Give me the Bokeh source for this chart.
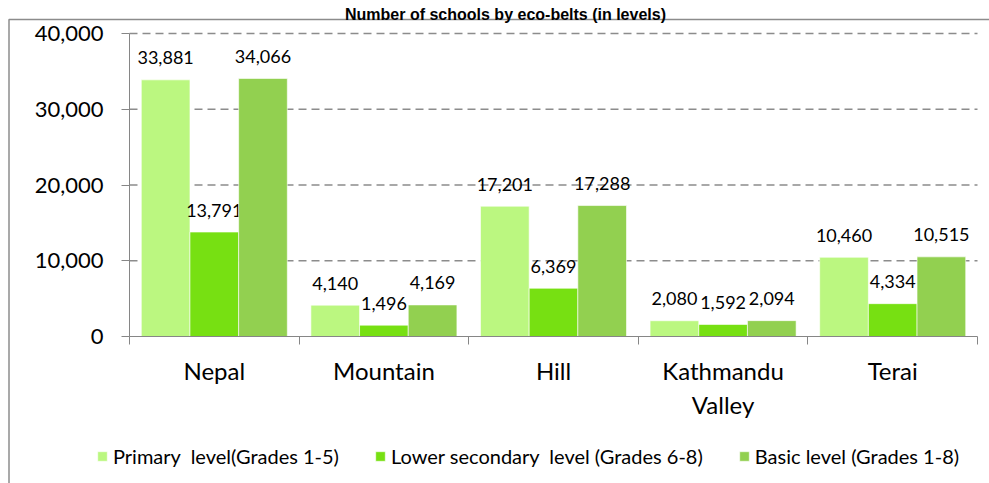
import numpy as np
from bokeh.plotting import figure
from bokeh.models import (ColumnDataSource, Range1d, FixedTicker, NumeralTickFormatter,
                          Legend, LegendItem, Label)
from bokeh.transform import dodge
from bokeh.embed import file_html
from bokeh.resources import INLINE
from bokeh.core.properties import value

# ---------------- data ----------------
title = "Number of schools by eco-belts (in levels)"
categories = ["Nepal", "Mountain", "Hill", "Kathmandu\nValley", "Terai"]
primary = [33881, 4140, 17201, 2080, 10460]
lower_secondary = [13791, 1496, 6369, 1592, 4334]
basic = [34066, 4169, 17288, 2094, 10515]
series_names = ["Primary  level(Grades 1-5)",
                "Lower secondary  level (Grades 6-8)",
                "Basic level (Grades 1-8)"]
colors = ["#BBF780", "#77E012", "#92D050"]
y_ticks = [0, 10000, 20000, 30000, 40000]

# ---------------- geometry (pixels on the canvas) ----------------
W, H = 989, 483
PX_L, PX_R, PX_T, PX_B = 129, 977, 33, 336     # plotting area
ncat = len(categories)
ymax = y_ticks[-1]
sx = (PX_R - PX_L) / ncat
sy = (PX_B - PX_T) / ymax
x_start, x_end = -PX_L / sx, ncat + (W - PX_R) / sx
y_start, y_end = -(H - PX_B) / sy, ymax + PX_T / sy


def xd(px):
    return x_start + px / sx


def yd(py):
    return y_end - py / sy


# ---------------- source ----------------
centers = np.arange(ncat) + 0.5
src = ColumnDataSource(dict(
    x=centers,
    primary=primary, lower=lower_secondary, basic=basic,
    lab_primary=[f"{v:,}" for v in primary],
    lab_lower=[f"{v:,}" for v in lower_secondary],
    lab_basic=[f"{v:,}" for v in basic],
))
grid_src = ColumnDataSource(dict(x0=[0] * (len(y_ticks) - 1), x1=[ncat] * (len(y_ticks) - 1),
                                 y=y_ticks[1:]))

FONT = "Lato"
GRAY = "#868686"
FRAME_GRAY = "#8c8c8c"

p = figure(width=W, height=H,
           x_range=Range1d(x_start, x_end), y_range=Range1d(y_start, y_end),
           output_backend="svg", toolbar_location=None,
           min_border_left=0, min_border_right=0, min_border_top=0, min_border_bottom=0)
p.title.visible = False
p.outline_line_color = None
p.background_fill_color = "white"
p.border_fill_color = "white"
p.xgrid.visible = False
p.ygrid.visible = False

# chart-area frame (left and top edges)
p.line(x=[xd(8.5), xd(8.5), x_end + 1], y=[y_start - 1, yd(19), yd(19)],
       line_color=FRAME_GRAY, line_width=1.5)

# dashed horizontal gridlines across the plotting area
p.segment(x0="x0", x1="x1", y0="y", y1="y", source=grid_src,
          line_color="#8c8c8c", line_dash="8 5", line_width=1.4)

bw = 0.287
offsets = [-bw, 0.0, bw]
keys = ["primary", "lower", "basic"]
renderers = []
for key, off, col in zip(keys, offsets, colors):
    r = p.vbar(x=dodge("x", off), top=key, width=bw, bottom=0, source=src,
               fill_color=col, line_color="white", line_width=1, line_alpha=0.6)
    renderers.append(r)
    p.text(x=dodge("x", off), y=key, text="lab_" + key, source=src,
           text_font=value(FONT), text_font_size="18px", text_color="#000000",
           text_align="center", text_baseline="alphabetic", y_offset=-22)

# ---------------- axes ----------------
ya = p.yaxis[0]
ya.fixed_location = 0
ya.bounds = (0, ymax)
ya.ticker = FixedTicker(ticks=y_ticks)
ya.formatter = NumeralTickFormatter(format="0,0")
ya.axis_line_color = GRAY
ya.major_tick_line_color = GRAY
ya.major_tick_out = 8
ya.major_tick_in = 0
ya.minor_tick_line_color = None
ya.major_label_standoff = 18
ya.major_label_text_font = FONT
ya.major_label_text_font_size = "22px"
ya.major_label_text_color = "#000000"

xa = p.xaxis[0]
xa.fixed_location = 0
xa.bounds = (0, ncat)
xa.ticker = FixedTicker(ticks=list(centers), minor_ticks=list(range(ncat + 1)))
xa.major_label_overrides = {float(c): lab for c, lab in zip(centers, categories)}
xa.axis_line_color = GRAY
xa.major_tick_line_color = None
xa.major_tick_out = 0
xa.major_tick_in = 0
xa.minor_tick_line_color = GRAY
xa.minor_tick_out = 8
xa.minor_tick_in = 0
xa.major_label_standoff = 11
xa.major_label_text_font = FONT
xa.major_label_text_font_size = "24px"
xa.major_label_text_color = "#000000"
xa.major_label_text_line_height = 1.18

# ---------------- legend ----------------
legend = Legend(items=[LegendItem(label=n, renderers=[r]) for n, r in zip(series_names, renderers)],
                orientation="horizontal", location=(96, 15.5),
                glyph_width=12, glyph_height=12, label_standoff=5, spacing=35,
                padding=0, margin=0, border_line_color=None, background_fill_alpha=0,
                label_text_font=FONT, label_text_font_size="20px", label_text_color="#000000")
p.add_layout(legend)

# ---------------- title ----------------
p.add_layout(Label(x=xd(505), y=yd(14), text=title,
                   text_font="Liberation Sans", text_font_style="bold",
                   text_font_size="16px", text_align="center",
                   text_baseline="alphabetic", text_color="#000000"))

open("out.html", "w").write(file_html(p, INLINE))
